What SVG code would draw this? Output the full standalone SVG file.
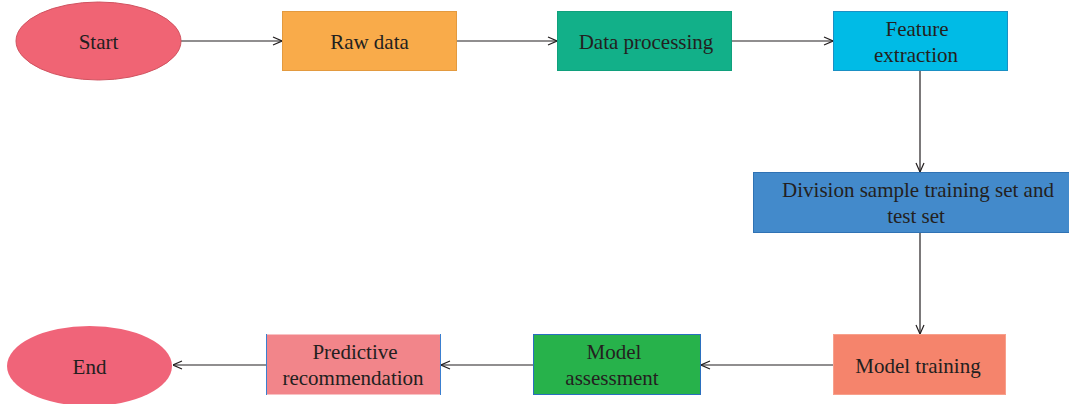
<svg xmlns="http://www.w3.org/2000/svg" width="1069" height="404" viewBox="0 0 1069 404">
  <style>
    .lbl { font-family: "Liberation Serif", "DejaVu Serif", serif; font-size: 21px; fill: #231f20; text-anchor: middle; }
    .edge { stroke: #231f20; stroke-width: 1.2; fill: none; marker-end: url(#arrow); }
  </style>
  <defs>
    <marker id="arrow" viewBox="0 0 10 10" refX="10" refY="5" markerWidth="10" markerHeight="10" markerUnits="userSpaceOnUse" orient="auto">
      <path d="M1,1 L10,5 L1,9" fill="none" stroke="#231f20" stroke-width="1.2"/>
    </marker>
  </defs>
  <rect width="1069" height="404" fill="#ffffff"/>

  <g id="edges">
    <line class="edge" x1="181" y1="41" x2="282" y2="41"/>
    <line class="edge" x1="457" y1="41" x2="557" y2="41"/>
    <line class="edge" x1="732" y1="41" x2="833" y2="41"/>
    <line class="edge" x1="920" y1="71" x2="920" y2="172"/>
    <line class="edge" x1="920" y1="233" x2="920" y2="334"/>
    <line class="edge" x1="833" y1="365" x2="701" y2="365"/>
    <line class="edge" x1="533" y1="365" x2="441" y2="365"/>
    <line class="edge" x1="266" y1="365" x2="173" y2="365"/>
  </g>

  <g id="start">
    <ellipse cx="98.5" cy="41" rx="82.5" ry="39" fill="#f06474" stroke="#d0525f" stroke-width="1"/>
    <text class="lbl" x="98.5" y="49">Start</text>
  </g>
  <g id="raw-data">
    <rect x="282.5" y="11.5" width="174" height="59" fill="#f9ab4a" stroke="#e39a3f" stroke-width="1"/>
    <text class="lbl" x="369.5" y="49">Raw data</text>
  </g>
  <g id="data-processing">
    <rect x="557.5" y="11.5" width="174" height="59" fill="#12b089" stroke="#10a07c" stroke-width="1"/>
    <text class="lbl" x="646" y="49">Data processing</text>
  </g>
  <g id="feature-extraction">
    <rect x="833.5" y="11.5" width="174" height="59" fill="#00bbe6" stroke="#1a90c4" stroke-width="1"/>
    <text class="lbl" x="917" y="36">Feature</text>
    <text class="lbl" x="916" y="62">extraction</text>
  </g>
  <g id="division">
    <rect x="753.5" y="172.5" width="316" height="60" fill="#438acb" stroke="#2f72b4" stroke-width="1"/>
    <text class="lbl" x="918" y="197">Division sample training set and</text>
    <text class="lbl" x="916" y="223">test set</text>
  </g>
  <g id="model-training">
    <rect x="833.5" y="334.5" width="172" height="60" fill="#f5846c" stroke="#f7a08c" stroke-width="1"/>
    <text class="lbl" x="918" y="373">Model training</text>
  </g>
  <g id="model-assessment">
    <rect x="533.5" y="334.5" width="167" height="60" fill="#27b24b" stroke="#2a6fbf" stroke-width="1"/>
    <text class="lbl" x="614" y="359">Model</text>
    <text class="lbl" x="612" y="385">assessment</text>
  </g>
  <g id="predictive-recommendation">
    <rect x="266.5" y="334.5" width="174" height="60" fill="#f2858a" stroke="none"/>
    <line x1="266.5" y1="334" x2="266.5" y2="395" stroke="#3a7fd0" stroke-width="1"/>
    <line x1="440.5" y1="334" x2="440.5" y2="395" stroke="#3a7fd0" stroke-width="1"/>
    <text class="lbl" x="355" y="359">Predictive</text>
    <text class="lbl" x="353" y="385">recommendation</text>
  </g>
  <g id="end">
    <ellipse cx="89.5" cy="366" rx="82.5" ry="40" fill="#f06479"/>
    <text class="lbl" x="89.5" y="374">End</text>
  </g>
</svg>
